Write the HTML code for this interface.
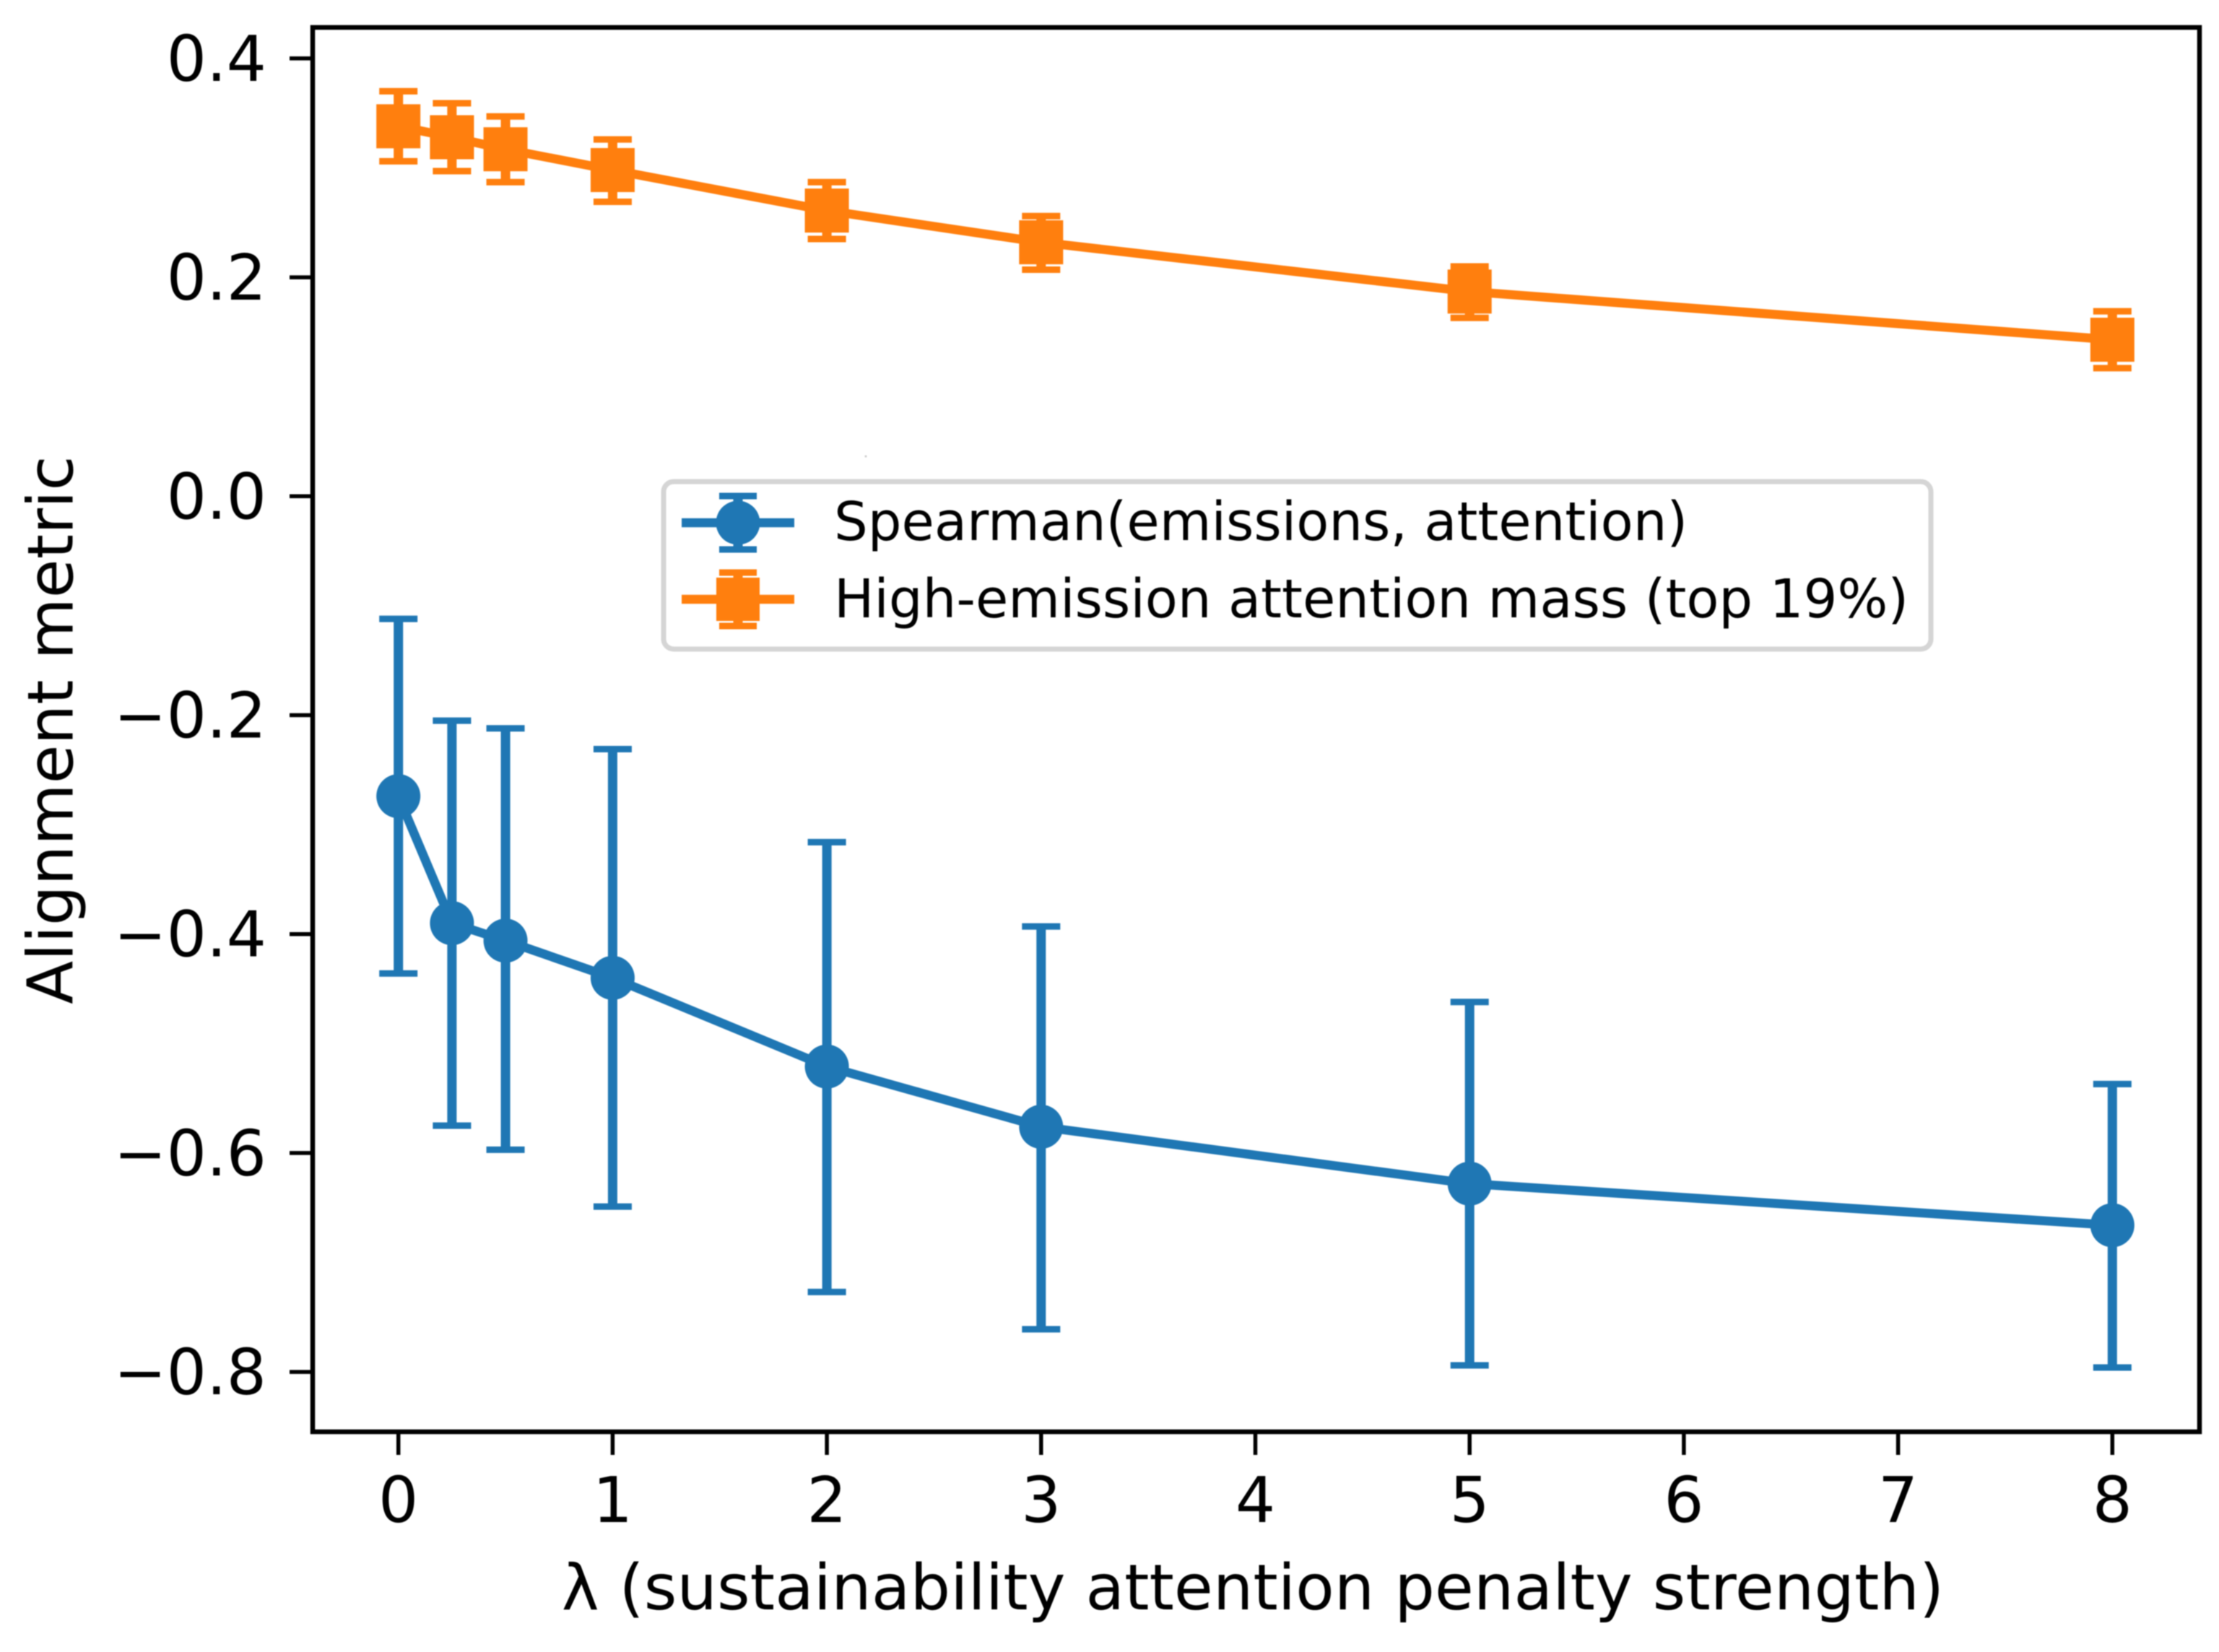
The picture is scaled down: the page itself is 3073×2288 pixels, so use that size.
<!DOCTYPE html>
<html lang="en">
<head>
<meta charset="utf-8">
<title>Alignment metric vs penalty strength</title>
<style>
html,body{margin:0;padding:0;background:#fff;}
svg{display:block;filter:blur(0.7px);}
text{font-family:"DejaVu Sans","Liberation Sans",sans-serif;fill:#000;}
</style>
</head>
<body>
<svg id="chart" xmlns="http://www.w3.org/2000/svg" width="3073" height="2288" viewBox="0 0 3073 2288">
  <rect x="0" y="0" width="3073" height="2288" fill="#ffffff"/>
  <g id="marks"></g>
  <rect x="433" y="38" width="2613" height="1945" fill="none" stroke="#000" stroke-width="6.5"/>
  <g id="ticks"></g>
  <text x="1735" y="2229" font-size="87.7" text-anchor="middle">λ (sustainability attention penalty strength)</text>
  <text transform="translate(100.5,1011) rotate(-90)" font-size="87.7" text-anchor="middle">Alignment metric</text>
  <circle cx="1199" cy="632" r="1.5" fill="#cccccc"/>
  <g>
    <rect x="919" y="667" width="1755" height="232" rx="14" ry="14" fill="#ffffff" stroke="#d5d5d5" stroke-width="7"/>
    <g>
      <line x1="944" x2="1100" y1="724" y2="724" stroke="#1f77b4" stroke-width="12.5"/>
      <line x1="1022" x2="1022" y1="687" y2="761" stroke="#1f77b4" stroke-width="13"/>
      <line x1="996" x2="1048" y1="687" y2="687" stroke="#1f77b4" stroke-width="9"/>
      <line x1="996" x2="1048" y1="761" y2="761" stroke="#1f77b4" stroke-width="9"/>
      <circle cx="1022" cy="724" r="30.5" fill="#1f77b4"/>
      <text x="1155" y="748" font-size="73.7">Spearman(emissions, attention)</text>
    </g>
    <g>
      <line x1="944" x2="1100" y1="830" y2="830" stroke="#ff7f0e" stroke-width="12.5"/>
      <line x1="1022" x2="1022" y1="793" y2="867" stroke="#ff7f0e" stroke-width="13"/>
      <line x1="996" x2="1048" y1="793" y2="793" stroke="#ff7f0e" stroke-width="9"/>
      <line x1="996" x2="1048" y1="867" y2="867" stroke="#ff7f0e" stroke-width="9"/>
      <rect x="992" y="800" width="60" height="60" fill="#ff7f0e"/>
      <text x="1155" y="855" font-size="73.7">High-emission attention mass (top 19%)</text>
    </g>
  </g>
</svg>
<script>
const lambdas = [0, 0.25, 0.5, 1, 2, 3, 5, 8];
const spearmanMean = [-0.274, -0.390, -0.406, -0.440, -0.521, -0.576, -0.628, -0.666];
const spearmanUpper = [-0.112, -0.205, -0.212, -0.231, -0.316, -0.393, -0.462, -0.537];
const spearmanLower = [-0.436, -0.575, -0.597, -0.649, -0.727, -0.761, -0.794, -0.796];
const massMean = [0.338, 0.328, 0.317, 0.298, 0.261, 0.232, 0.187, 0.143];
const massUpper = [0.370, 0.359, 0.347, 0.326, 0.287, 0.256, 0.210, 0.169];
const massLower = [0.306, 0.297, 0.287, 0.269, 0.235, 0.207, 0.163, 0.117];
const xTicks = [0, 1, 2, 3, 4, 5, 6, 7, 8];
const yTicks = [0.4, 0.2, 0.0, -0.2, -0.4, -0.6, -0.8];

const NS = 'http://www.w3.org/2000/svg';
function xScale(v) { return 551.7 + 296.7 * v; }
function yScale(v) { return 687.3 - 1516 * v; }
function make(parent, tag, attrs) {
  const el = document.createElementNS(NS, tag);
  for (const k in attrs) el.setAttribute(k, attrs[k]);
  parent.appendChild(el);
  return el;
}
function yLabel(v) {
  const s = Math.abs(v).toFixed(1);
  return (v < 0 ? '\u2212' : '') + s;
}

const marks = document.getElementById('marks');
const ticks = document.getElementById('ticks');

function drawSeries(key, color, means, uppers, lowers, square) {
  const group = make(marks, 'g', {});
  
  
  lambdas.forEach(function (lam, i) {
    const x = xScale(lam);
    const top = yScale(uppers[i]);
    const bottom = yScale(lowers[i]);
    const bar = make(group, 'line', { x1: x, x2: x, y1: top, y2: bottom, stroke: color, 'stroke-width': 13 });
    
    
    const capTop = make(group, 'line', { x1: x - 26.5, x2: x + 26.5, y1: top, y2: top, stroke: color, 'stroke-width': 9 });
    
    
    const capBottom = make(group, 'line', { x1: x - 26.5, x2: x + 26.5, y1: bottom, y2: bottom, stroke: color, 'stroke-width': 9 });
    
    
  });
  const pts = lambdas.map(function (lam, i) { return xScale(lam) + ',' + yScale(means[i]); }).join(' ');
  const line = make(group, 'polyline', { points: pts, fill: 'none', stroke: color, 'stroke-width': 12.5, 'stroke-linejoin': 'round' });
  
  
  lambdas.forEach(function (lam, i) {
    const x = xScale(lam);
    const y = yScale(means[i]);
    let m;
    if (square) {
      m = make(group, 'rect', { x: x - 30.5, y: y - 30.5, width: 61, height: 61, fill: color });
    } else {
      m = make(group, 'circle', { cx: x, cy: y, r: 30.5, fill: color });
    }
    
    
  });
}

drawSeries('spearman', '#1f77b4', spearmanMean, spearmanUpper, spearmanLower, false);
drawSeries('high-emission-mass', '#ff7f0e', massMean, massUpper, massLower, true);

xTicks.forEach(function (t) {
  const x = xScale(t);
  const mark = make(ticks, 'line', { x1: x, x2: x, y1: 1983, y2: 2015, stroke: '#000', 'stroke-width': 5.5 });
  
  
  const label = make(ticks, 'text', { x: x, y: 2108, 'font-size': 87, 'text-anchor': 'middle' });
  
  
  label.textContent = String(t);
});

yTicks.forEach(function (t) {
  const y = yScale(t);
  const mark = make(ticks, 'line', { x1: 401, x2: 433, y1: y, y2: y, stroke: '#000', 'stroke-width': 5.5 });
  
  
  const label = make(ticks, 'text', { x: 369, y: y + 31, 'font-size': 87, 'text-anchor': 'end' });
  
  
  label.textContent = yLabel(t);
});
</script>
</body>
</html>
